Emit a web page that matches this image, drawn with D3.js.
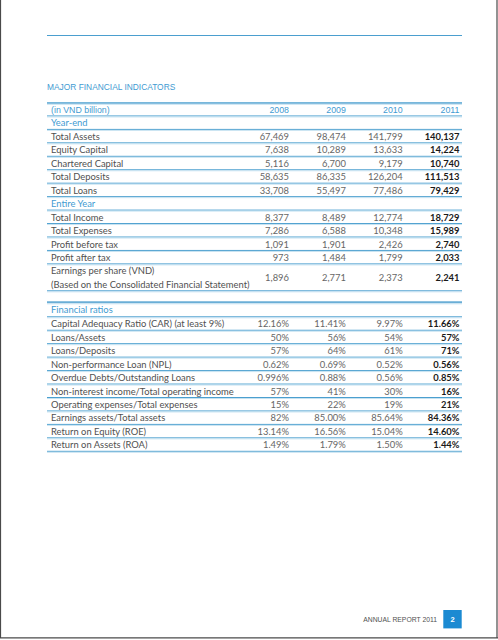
<!DOCTYPE html>
<html><head><meta charset="utf-8">
<script src="https://cdn.jsdelivr.net/npm/d3@7"></script>
<style>html,body{margin:0;padding:0;background:#fff;}svg{display:block;}</style>
</head><body>
<script>
const years = ["2008", "2009", "2010", "2011"];
const title = "MAJOR FINANCIAL INDICATORS";
const unitLabel = "(in VND billion)";

const yearEndLabels = ["Total Assets", "Equity Capital", "Chartered Capital", "Total Deposits", "Total Loans"];
const yearEndValues = [
  [67469, 98474, 141799, 140137],
  [7638, 10289, 13633, 14224],
  [5116, 6700, 9179, 10740],
  [58635, 86335, 126204, 111513],
  [33708, 55497, 77486, 79429]
];
const entireYearLabels = ["Total Income", "Total Expenses", "Profit before tax", "Profit after tax"];
const entireYearValues = [
  [8377, 8489, 12774, 18729],
  [7286, 6588, 10348, 15989],
  [1091, 1901, 2426, 2740],
  [973, 1484, 1799, 2033]
];
const epsLabels = ["Earnings per share (VND)", "(Based on the Consolidated Financial Statement)"];
const epsValues = [1896, 2771, 2373, 2241];

const ratioLabels = [
  "Capital Adequacy Ratio (CAR) (at least 9%)",
  "Loans/Assets",
  "Loans/Deposits",
  "Non-performance Loan (NPL)",
  "Overdue Debts/Outstanding Loans",
  "Non-interest income/Total operating income",
  "Operating expenses/Total expenses",
  "Earnings assets/Total assets",
  "Return on Equity (ROE)",
  "Return on Assets (ROA)"
];
const ratioValues = [
  ["12.16%", "11.41%", "9.97%", "11.66%"],
  ["50%", "56%", "54%", "57%"],
  ["57%", "64%", "61%", "71%"],
  ["0.62%", "0.69%", "0.52%", "0.56%"],
  ["0.996%", "0.88%", "0.56%", "0.85%"],
  ["57%", "41%", "30%", "16%"],
  ["15%", "22%", "19%", "21%"],
  ["82%", "85.00%", "85.64%", "84.36%"],
  ["13.14%", "16.56%", "15.04%", "14.60%"],
  ["1.49%", "1.79%", "1.50%", "1.44%"]
];
const footerText = "ANNUAL REPORT 2011";
const pageNumber = "2";

const W = 498, H = 640;
const BLUE = "#3f9bd2", LINE = "#4b9fcf", LIGHT = "#c6e2f1", GRAY = "#505050", DARK = "#1a1a1a";
const ARIAL = "Liberation Sans, Arial, sans-serif";
const BODY = "Lato, 'Open Sans', sans-serif";
const FS = 9.4;

const svg = d3.select("body").append("svg").attr("width", W).attr("height", H);

// page frame
svg.append("line").attr("x1", 0.5).attr("x2", 0.5).attr("y1", 0).attr("y2", 638).attr("stroke", "#4a4a4a").attr("stroke-width", 1.2);
svg.append("line").attr("x1", 497).attr("x2", 497).attr("y1", 0).attr("y2", 638).attr("stroke", "#4a4a4a").attr("stroke-width", 1.2);
svg.append("line").attr("x1", 0).attr("x2", 498).attr("y1", 637.8).attr("y2", 637.8).attr("stroke", "#4a4a4a").attr("stroke-width", 1.2);

const left = 47, right = 462, textX = 51;
svg.append("line").attr("x1", left).attr("x2", right).attr("y1", 35.5).attr("y2", 35.5).attr("stroke", LINE).attr("stroke-width", 1);

svg.append("text").attr("x", left).attr("y", 89.8).attr("font-family", ARIAL).attr("font-size", 8.4)
  .attr("fill", BLUE).text(title);

const x = d3.scalePoint().domain(years).range([289, 459.5]);

// build rows
const RH = 13.45;
const rows = [];
rows.push({ type: "header", h: RH });
rows.push({ type: "section", label: "Year-end", h: RH });
yearEndLabels.forEach((l, i) => rows.push({ type: "data", label: [l], values: yearEndValues[i].map(d3.format(",")), h: RH }));
rows.push({ type: "section", label: "Entire Year", h: RH });
entireYearLabels.forEach((l, i) => rows.push({ type: "data", label: [l], values: entireYearValues[i].map(d3.format(",")), h: RH }));
rows.push({ type: "data", label: epsLabels, values: epsValues.map(d3.format(",")), h: RH * 2 });
rows.push({ type: "gap", h: 11 });
rows.push({ type: "section", label: "Financial ratios", h: 15 });
ratioLabels.forEach((l, i) => rows.push({ type: "data", label: [l], values: ratioValues[i], h: RH }));

let y0 = 103;
rows.forEach(r => { r.y = y0; y0 += r.h; });

const g = svg.append("g");

// separators
rows.forEach(r => {
  const yb = r.y + r.h;
  if (r.type === "gap") {
    g.append("line").attr("x1", left).attr("x2", right).attr("y1", yb).attr("y2", yb).attr("stroke", "#6aaed6").attr("stroke-width", 2);
    g.append("line").attr("x1", left).attr("x2", right).attr("y1", yb + 1.5).attr("y2", yb + 1.5).attr("stroke", LIGHT).attr("stroke-width", 1);
  } else {
    g.append("line").attr("x1", left).attr("x2", right).attr("y1", yb - 0.5).attr("y2", yb - 0.5).attr("stroke", LINE).attr("stroke-width", 1);
    g.append("line").attr("x1", left).attr("x2", right).attr("y1", yb + 0.5).attr("y2", yb + 0.5).attr("stroke", LIGHT).attr("stroke-width", 1);
  }
});
// header top line
g.append("line").attr("x1", left).attr("x2", right).attr("y1", 103).attr("y2", 103).attr("stroke", LINE).attr("stroke-width", 1.6);
g.append("line").attr("x1", left).attr("x2", right).attr("y1", 104.3).attr("y2", 104.3).attr("stroke", LIGHT).attr("stroke-width", 1);

rows.forEach(r => {
  const cy = r.y + r.h / 2 + 3.3;
  if (r.type === "header") {
    g.append("text").attr("x", textX).attr("y", cy).attr("font-family", ARIAL).attr("font-size", 8.8).attr("fill", BLUE).text(unitLabel);
    years.forEach(yr => g.append("text").attr("x", x(yr)).attr("y", cy).attr("text-anchor", "end")
      .attr("font-family", ARIAL).attr("font-size", 8.8).attr("fill", BLUE).text(yr));
  } else if (r.type === "section") {
    g.append("text").attr("x", textX).attr("y", cy).attr("font-family", BODY).attr("font-size", FS).attr("fill", BLUE).text(r.label);
  } else if (r.type === "data") {
    if (r.label.length === 1) {
      g.append("text").attr("x", textX).attr("y", cy).attr("font-family", BODY).attr("font-size", FS).attr("fill", GRAY).text(r.label[0]);
    } else {
      r.label.forEach((l, k) => g.append("text").attr("x", textX).attr("y", r.y + RH * k + RH / 2 + 3.3)
        .attr("font-family", BODY).attr("font-size", FS).attr("fill", GRAY).text(l));
    }
    r.values.forEach((v, k) => {
      const last = k === years.length - 1;
      g.append("text").attr("x", x(years[k])).attr("y", cy).attr("text-anchor", "end")
        .attr("font-family", BODY).attr("font-size", FS)
        .attr("font-weight", last ? "bold" : "normal")
        .attr("fill", last ? DARK : "#666").text(v);
    });
  }
});

// footer
svg.append("text").attr("x", 437).attr("y", 621.8).attr("text-anchor", "end").attr("font-family", ARIAL)
  .attr("font-size", 6.8).attr("fill", GRAY).text(footerText);
svg.append("rect").attr("x", 443.3).attr("y", 610).attr("width", 18.4).attr("height", 18.4).attr("fill", "#1b8ad2");
svg.append("text").attr("x", 452.5).attr("y", 622).attr("text-anchor", "middle").attr("font-family", ARIAL)
  .attr("font-weight", "bold").attr("font-size", 7.5).attr("fill", "#fff").text(pageNumber);
</script>
</body></html>
